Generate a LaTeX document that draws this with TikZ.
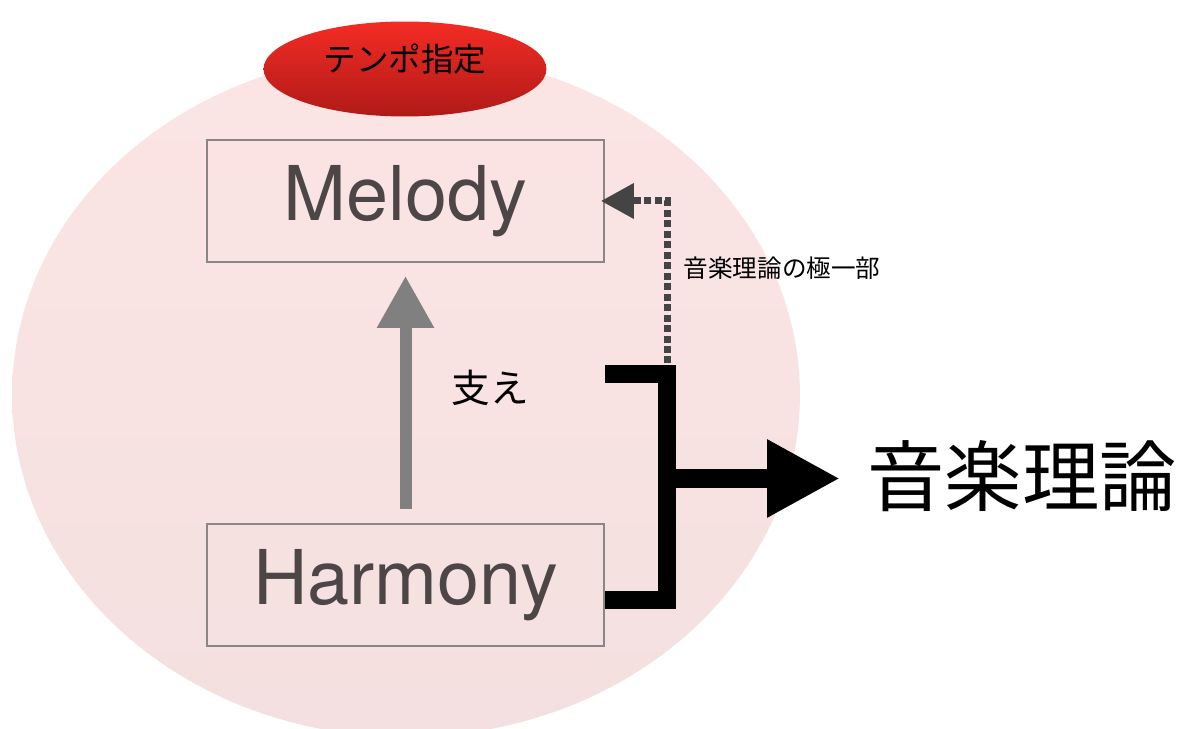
\documentclass[tikz,border=0pt]{standalone}
\usepackage{fontspec}
\setmainfont{TeX Gyre Heros}
\newfontfamily\jpfont{Noto Sans CJK JP}
\usetikzlibrary{arrows.meta,shapes.geometric}
\definecolor{pinktop}{RGB}{252,228,228}
\definecolor{pinkbot}{RGB}{244,224,224}
\definecolor{redtop}{RGB}{243,44,36}
\definecolor{redbot}{RGB}{176,26,24}
\definecolor{boxgray}{RGB}{138,134,134}
\definecolor{txtgray}{RGB}{77,70,70}
\definecolor{dotgray}{RGB}{68,68,68}
\tikzset{box/.style={draw=boxgray,line width=1.1pt,minimum width=7.94cm,minimum height=2.44cm,
    text=txtgray,font=\fontsize{43}{50}\selectfont}}
\tikzset{tempo/.style={ellipse,minimum width=5.66cm,minimum height=1.9cm,
    top color=redtop,bottom color=redbot}}
\tikzset{jp/.style={font=\jpfont\fontsize{#1}{#1}\selectfont}}
\tikzset{support/.style={-{Triangle[length=1.04cm,width=1.08cm]},line width=0.24cm,gray}}
\tikzset{bracket/.style={line width=0.36cm,black}}
\tikzset{part/.style={-{Triangle[length=0.66cm,width=0.68cm]},dotgray,line width=0.14cm,
    dash pattern=on 0.14cm off 0.07cm}}

\begin{document}
\begin{tikzpicture}[x=0.02cm,y=-0.02cm]
    \useasboundingbox (0,0) rectangle (1178,729);
    \begin{scope}
        \clip (0,0) rectangle (1178,729);
        \shade[top color=pinktop,bottom color=pinkbot] (406,395) ellipse [x radius=7.88cm,y radius=6.84cm];
    \end{scope}
    \node [tempo] (tempo) at (405,69) {};
    \node [jp=18.5pt] at ([yshift=0.2cm]tempo.center) {テンポ指定};
    \node [box] (melody) at (405.5,201) {Melody};
    \node [box] (harmony) at (405.5,585) {Harmony};
    \draw [support,shorten <=0.28cm,shorten >=0.26cm] (harmony) -- (melody);
    \node [jp=22pt] (sasae) at (490,388) {支え};
    % bracket and its arrow
    \coordinate (brtop) at (605,374);
    \coordinate (brbot) at (605,600);
    \coordinate (brmid) at (667,478.5);
    \coordinate (dotstart) at (667,374);
    \node [jp=44pt] (theory) at (1022,476) {音楽理論};
    \node [jp=14pt] (partlabel) at (782,268) {音楽理論の極一部};
    \draw [part,shorten >=-0.08cm] (dotstart) |- (melody.east);
    \draw [bracket] (brtop) -| (brmid) |- (brbot);
    \draw [bracket,-{Triangle[length=1.46cm,width=1.46cm]},line width=0.38cm] (brmid) -- (840,478.5);
\end{tikzpicture}
\end{document}
